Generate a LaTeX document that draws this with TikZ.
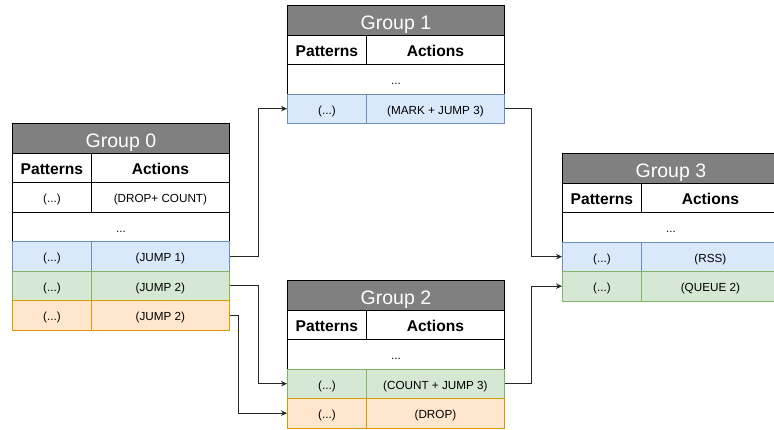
\documentclass[tikz,border=0pt]{standalone}
\usepackage{fontspec}
\setmainfont{Liberation Sans}
\usetikzlibrary{arrows.meta,calc}
\definecolor{hdrgray}{RGB}{128,128,128}
\definecolor{bluefill}{HTML}{DAE8FC}
\definecolor{bluedraw}{HTML}{6C8EBF}
\definecolor{greenfill}{HTML}{D5E8D4}
\definecolor{greendraw}{HTML}{82B366}
\definecolor{orangefill}{HTML}{FFE6CC}
\definecolor{orangedraw}{HTML}{D79B00}
\tikzset{
  cell/.style={draw=black, line width=0.8pt, rectangle, inner sep=0pt, anchor=north west,
    minimum height=29.5pt, text height=11pt, text depth=0pt,
    font=\fontsize{11.7}{13}\selectfont},
  hdr/.style={cell, fill=hdrgray, text=white, minimum width=217pt, text height=19pt,
    font=\fontsize{19.5}{22}\selectfont},
  colhead/.style={text height=14pt, font=\fontsize{15.6}{18}\selectfont\bfseries},
  pat/.style={cell, minimum width=79pt},
  act/.style={cell, minimum width=138pt},
  full/.style={cell, minimum width=217pt},
  blue/.style={fill=bluefill, draw=bluedraw},
  green/.style={fill=greenfill, draw=greendraw},
  orange/.style={fill=orangefill, draw=orangedraw},
  conn/.style={draw=black!85, line width=0.9pt, -{Stealth[length=6pt,width=5.5pt]}}
}
\begin{document}
\begin{tikzpicture}[x=1pt,y=-1pt]
\clip (0,0) rectangle (774,429);
\fill[white] (0,0) rectangle (774,429);

% Group 0
\node[hdr] (g0h) at (12,123) {Group 0};
\node[pat,colhead] (g0ph) at (12,152.5) {Patterns};
\node[act,colhead] (g0ah) at (91,152.5) {Actions};
\node[pat] (g0p1) at (12,182) {(...)};
\node[act] (g0a1) at (91,182) {(DROP+ COUNT)};
\node[full] (g0d) at (12,211.5) {...};
\node[pat,blue] (g0p2) at (12,241) {(...)};
\node[act,blue] (g0a2) at (91,241) {(JUMP 1)};
\node[pat,green] (g0p3) at (12,270.5) {(...)};
\node[act,green] (g0a3) at (91,270.5) {(JUMP 2)};
\node[pat,orange] (g0p4) at (12,300) {(...)};
\node[act,orange] (g0a4) at (91,300) {(JUMP 2)};

% Group 1
\node[hdr] (g1h) at (287,5) {Group 1};
\node[pat,colhead] (g1ph) at (287,34.5) {Patterns};
\node[act,colhead] (g1ah) at (366,34.5) {Actions};
\node[full] (g1d) at (287,64) {...};
\node[pat,blue] (g1p1) at (287,93.5) {(...)};
\node[act,blue] (g1a1) at (366,93.5) {(MARK + JUMP 3)};

% Group 2
\node[hdr] (g2h) at (287,280) {Group 2};
\node[pat,colhead] (g2ph) at (287,309.5) {Patterns};
\node[act,colhead] (g2ah) at (366,309.5) {Actions};
\node[full] (g2d) at (287,339) {...};
\node[pat,green] (g2p1) at (287,368.5) {(...)};
\node[act,green] (g2a1) at (366,368.5) {(COUNT + JUMP 3)};
\node[pat,orange] (g2p2) at (287,398) {(...)};
\node[act,orange] (g2a2) at (366,398) {(DROP)};

% Group 3
\node[hdr] (g3h) at (562,153) {Group 3};
\node[pat,colhead] (g3ph) at (562,182.5) {Patterns};
\node[act,colhead] (g3ah) at (641,182.5) {Actions};
\node[full] (g3d) at (562,212) {...};
\node[pat,blue] (g3p1) at (562,241.5) {(...)};
\node[act,blue] (g3a1) at (641,241.5) {(RSS)};
\node[pat,green] (g3p2) at (562,271) {(...)};
\node[act,green] (g3a2) at (641,271) {(QUEUE 2)};

% Jumps between groups
\draw[conn] (g0a2.east) -- ($(g0a2.east)+(29,0)$) |- (g1p1.west);
\draw[conn] (g0a3.east) -- ($(g0a3.east)+(29,0)$) |- (g2p1.west);
\draw[conn] (g0a4.east) -- ($(g0a4.east)+(9,0)$) |- (g2p2.west);
\draw[conn] (g1a1.east) -- ($(g1a1.east)+(27,0)$) |- (g3p1.west);
\draw[conn] (g2a1.east) -- ($(g2a1.east)+(27,0)$) |- (g3p2.west);
\end{tikzpicture}
\end{document}
